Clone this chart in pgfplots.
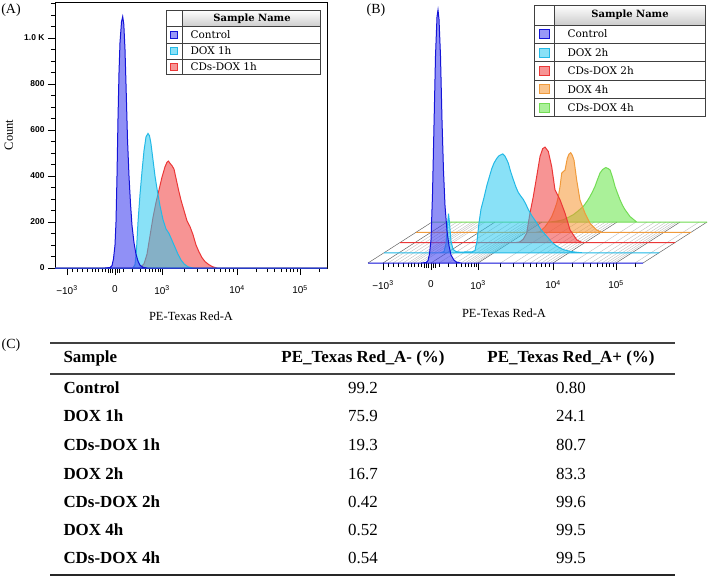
\documentclass[border=0pt]{standalone}
\usepackage{fontspec}
\setmainfont{Liberation Serif}
\newfontfamily\legfont{DejaVu Serif}
\newfontfamily\tickfont{Liberation Sans}
\usepackage{pgfplots}
\pgfplotsset{compat=1.18}
\usepackage{pgfplotstable}

\definecolor{ctrlF}{RGB}{70,70,240}
\definecolor{ctrlL}{RGB}{20,20,215}
\definecolor{cyF}{RGB}{40,200,240}
\definecolor{cyL}{RGB}{35,185,230}
\definecolor{rdF}{RGB}{240,60,60}
\definecolor{rdL}{RGB}{235,55,55}
\definecolor{orF}{RGB}{245,150,50}
\definecolor{orL}{RGB}{240,155,60}
\definecolor{grF}{RGB}{100,230,70}
\definecolor{grL}{RGB}{115,220,85}

% ---------- Panel A data (x in display units of the logicle axis, y = count)
\pgfplotstableread{
x y
55 0
105 0
110 2
112 10
113.5 40
115 100
116 200
117 400
118 650
119 850
120 980
121.5 1070
122.7 1093
123.8 1060
125 950
126 800
127.5 560
129 400
130.5 280
132 185
134 110
136 60
138 30
140 12
143 3
147 0
327 0
}\ctrlA
\pgfplotstableread{
x y
55 0
133 0
135 15
136.5 80
138 200
140 320
142 420
144 510
146 570
148 585
149.5 575
151 540
153 470
155 400
157 345
160 270
163 210
166 170
169 150
172 120
175 90
178 60
181 35
184 18
188 5
193 0
327 0
}\doxA
\pgfplotstableread{
x y
55 0
138 0
141 5
144 18
147 60
150 140
153 220
156 285
159 340
162 395
165 440
167 460
168.5 465
170 455
172 445
174 430
176 390
178.5 340
181 295
184 250
187 205
190 180
193 145
196 100
199 70
202 45
205 28
209 14
213 5
217 0
327 0
}\cdsA

% ---------- Panel B data (same units, each layer relative to its own baseline)
\pgfplotstableread{
x y
52 0
105 0
110 2
112 10
113.5 40
115 100
116.5 300
118 600
119.5 900
121 1070
122 1100
123 1060
124.5 900
126 620
127.5 400
129 250
131 140
133 75
135 35
138 12
141 3
145 0
327 0
}\ctrlB
\pgfplotstableread{
x y
52 0
108 0
112 5
114 40
115.5 120
116.5 170
117.5 130
119 50
121 15
124 5
128 3
140 4
143 10
145 50
147 130
149 190
152 240
154.7 290
157 325
159.7 365
162 390
164.7 410
167 422
170.7 430
173 420
176.3 390
178.5 355
181.3 318
184 285
186.3 262
189 245
191.3 232
194 210
196.3 188
200 160
204.7 130
209 100
214.7 72
220 45
224.7 29
231 14
238 6
245 2
250 0
327 0
}\doxBb
\pgfplotstableread{
x y
52 0
168 0
172 3
175.3 15
178.7 41
182 128
185.3 200
188.7 287
192 374
194.7 408
197 415
200.3 396
203.7 330
207 229
212 186
217 128
222 55
228.7 12
234 0
327 0
}\cdsBb
\pgfplotstableread{
x y
52 0
172 0
176 3
181 24
184.5 45
187.7 68
190.2 95
192.7 126
194.5 160
196 198
197.7 257
199.5 265
201 270
203.3 322
205 340
206.7 346
208.3 335
210 314
212.7 227
216 140
221 83
226 39
232.7 10
238 0
327 0
}\doxBd
\pgfplotstableread{
x y
52 0
168 0
173.3 2
178 5
183.3 10
188 20
193.3 32
198 48
203.3 68
207 90
210 111
212.5 132
215 155
217.5 185
220 213
222.5 228
225.7 237
228 233
230 227
232.5 195
235 155
237.5 125
240 97
242.5 73
245 54
250 24
256.7 0
327 0
}\cdsBd

\pgfplotsset{
  flowaxis/.style={
    scale only axis, clip=false,
    tick align=outside, tick pos=left,
    xtick={67,115,162,237,300},
    xticklabels={{−10\textsuperscript{3}},0,{10\textsuperscript{3}},{10\textsuperscript{4}},{10\textsuperscript{5}}},
    minor xtick={72,77,82,87,92,95,98,102,105,123,132,140,145,149,152,155,158,160,
                 184.6,197.8,207.2,214.4,220.4,225.4,229.7,233.6,
                 256,267,274.9,281,286,290.2,293.9,297.1,319},
    extra x ticks={108,110,112,117,119},
    extra x tick labels={},
    extra x tick style={major tick length=5bp},
    major tick length=7bp, minor tick length=4bp,
    tick style={black, line width=0.9bp},
    xticklabel style={font=\tickfont\fontsize{10}{12}\selectfont, yshift=-7bp},
    yticklabel style={font=\tickfont\bfseries\fontsize{8.5}{10}\selectfont},
    label style={font=\fontsize{12.5}{14}\selectfont},
  }
}

\begin{document}
\begin{tikzpicture}
\useasboundingbox (0,0) rectangle (709bp,-576bp);

% ================= Panel A =================
\begin{axis}[flowaxis,
  at={(55bp,-268bp)}, anchor=south west,
  width=272bp, height=266bp,
  xmin=55, xmax=327, ymin=0, ymax=1156.5,
  axis line style={black, line width=0.8bp},
  ytick={0,200,400,600,800,1000},
  yticklabels={0,200,400,600,800,1.0 K},
  minor ytick={50,100,...,1150},
  xlabel={PE-Texas Red-A}, ylabel={Count},
  xlabel style={at={(axis description cs:0.5,-0.18)}, anchor=center},
  ylabel style={at={(axis description cs:-0.17,0.5)}, anchor=center},
]
\addplot[draw=rdL, fill=rdF, fill opacity=0.55, line width=1bp] table {\cdsA} -- cycle;
\addplot[draw=cyL, fill=cyF, fill opacity=0.55, line width=1bp] table {\doxA} -- cycle;
\addplot[draw=ctrlL, fill=ctrlF, fill opacity=0.6, line width=1bp] table {\ctrlA} -- cycle;
\end{axis}

% ================= Panel B =================
\begin{axis}[flowaxis,
  at={(368bp,-263bp)}, anchor=south west,
  width=340bp, height=263bp,
  xmin=52, xmax=392, ymin=0, ymax=1143.5,
  axis x line*=bottom, axis y line=none,
  x axis line style={draw=none},
  xlabel={PE-Texas Red-A},
  xlabel style={at={(axis description cs:0.4,-0.19)}, anchor=center},
]
% perspective floor
\pgfplotsinvokeforeach{72,77,82,87,92,95,98,102,105,123,132,140,145,149,152,155,158,160,184.6,197.8,207.2,214.4,220.4,225.4,229.7,233.6,256,267,274.9,281,286,290.2,293.9,297.1,319}{
  \draw[black!25, line width=0.4bp] (axis cs:#1,0) -- (axis cs:#1+64,178);
}
\pgfplotsinvokeforeach{52,67,115,162,237,300,327}{
  \draw[black!60, line width=0.5bp] (axis cs:#1,0) -- (axis cs:#1+64,178);
}
\addplot[draw=grL, fill=grF, fill opacity=0.55, line width=1bp]
  table[x expr=\thisrow{x}+64, y expr=\thisrow{y}+178] {\cdsBd} -- cycle;
\addplot[draw=orL, fill=orF, fill opacity=0.55, line width=1bp]
  table[x expr=\thisrow{x}+48, y expr=\thisrow{y}+133.5] {\doxBd} -- cycle;
\addplot[draw=rdL, fill=rdF, fill opacity=0.55, line width=1bp]
  table[x expr=\thisrow{x}+32, y expr=\thisrow{y}+89] {\cdsBb} -- cycle;
\addplot[draw=cyL, fill=cyF, fill opacity=0.55, line width=1bp]
  table[x expr=\thisrow{x}+16, y expr=\thisrow{y}+44.5] {\doxBb} -- cycle;
\addplot[draw=ctrlL, fill=ctrlF, fill opacity=0.6, line width=1bp] table {\ctrlB} -- cycle;
\end{axis}

% ================= Legends =================
\begin{scope}[font=\legfont\fontsize{10.5}{12}\selectfont]
% A
\fill[top color=white, bottom color=black!20] (182bp,-10bp) rectangle (320bp,-26.7bp);
\draw[black!75, line width=0.8bp] (166bp,-10bp) rectangle (320bp,-74.5bp);
\foreach \yy in {26.7,43,59} \draw[black!75, line width=0.8bp] (166bp,-\yy bp) -- (320bp,-\yy bp);
\draw[black!75, line width=0.8bp] (182bp,-10bp) -- (182bp,-74.5bp);
\node[font=\legfont\bfseries\fontsize{10}{12}\selectfont] at (252bp,-18.5bp) {Sample Name};
\filldraw[fill=ctrlF!55, draw=ctrlL, line width=0.8bp] (170.5bp,-31.5bp) rectangle (177.5bp,-38.5bp);
\filldraw[fill=cyF!55, draw=cyL, line width=0.8bp] (170.5bp,-47.5bp) rectangle (177.5bp,-54.5bp);
\filldraw[fill=rdF!55, draw=rdL, line width=0.8bp] (170.5bp,-63.5bp) rectangle (177.5bp,-70.5bp);
\node[anchor=west] at (187bp,-35bp) {Control};
\node[anchor=west] at (187bp,-51bp) {DOX 1h};
\node[anchor=west] at (187bp,-67bp) {CDs-DOX 1h};
% B
\fill[top color=white, bottom color=black!20] (554bp,-5bp) rectangle (705bp,-25bp);
\draw[black!75, line width=0.8bp] (534bp,-5bp) rectangle (705bp,-116.7bp);
\foreach \yy in {25,43.3,61.7,80,98.3} \draw[black!75, line width=0.8bp] (534bp,-\yy bp) -- (705bp,-\yy bp);
\draw[black!75, line width=0.8bp] (554bp,-5bp) -- (554bp,-116.7bp);
\node[font=\legfont\bfseries\fontsize{10}{12}\selectfont] at (630bp,-15bp) {Sample Name};
\filldraw[fill=ctrlF!55, draw=ctrlL, line width=0.8bp] (539bp,-29.5bp) rectangle (549bp,-38.5bp);
\filldraw[fill=cyF!55, draw=cyL, line width=0.8bp] (539bp,-47.9bp) rectangle (549bp,-56.9bp);
\filldraw[fill=rdF!55, draw=rdL, line width=0.8bp] (539bp,-66.3bp) rectangle (549bp,-75.3bp);
\filldraw[fill=orF!55, draw=orL, line width=0.8bp] (539bp,-84.6bp) rectangle (549bp,-93.6bp);
\filldraw[fill=grF!55, draw=grL, line width=0.8bp] (539bp,-103bp) rectangle (549bp,-112bp);
\node[anchor=west] at (564bp,-34bp) {Control};
\node[anchor=west] at (564bp,-52.4bp) {DOX 2h};
\node[anchor=west] at (564bp,-70.8bp) {CDs-DOX 2h};
\node[anchor=west] at (564bp,-89.1bp) {DOX 4h};
\node[anchor=west] at (564bp,-107.5bp) {CDs-DOX 4h};
\end{scope}

% ================= Panel labels =================
\begin{scope}[font=\fontsize{14}{16}\selectfont]
\node at (11bp,-10bp) {(A)};
\node at (376bp,-10bp) {(B)};
\node at (11bp,-345bp) {(C)};
\end{scope}

% ================= Table C =================
\begin{scope}[font=\fontsize{17}{20}\selectfont]
\draw[black!75, line width=1.6bp] (50bp,-343bp) -- (675bp,-343bp);
\draw[black!75, line width=1.6bp] (50bp,-374bp) -- (675bp,-374bp);
\draw[black!85, line width=1.6bp] (50bp,-575bp) -- (675bp,-575bp);
\node[anchor=west, font=\bfseries\fontsize{17}{20}\selectfont] at (60bp,-358bp) {Sample};
\node[font=\bfseries\fontsize{17}{20}\selectfont] at (363bp,-358bp) {PE\_Texas Red\_A- (\%)};
\node[font=\bfseries\fontsize{17}{20}\selectfont] at (571bp,-358bp) {PE\_Texas Red\_A+ (\%)};
\foreach \yy/\nm/\a/\b in {388/Control/99.2/0.80, 416/DOX 1h/75.9/24.1, 445/CDs-DOX 1h/19.3/80.7,
   474/DOX 2h/16.7/83.3, 502/CDs-DOX 2h/0.42/99.6, 530/DOX 4h/0.52/99.5, 558/CDs-DOX 4h/0.54/99.5}{
  \node[anchor=west, font=\bfseries\fontsize{17}{20}\selectfont] at (60bp,-\yy bp) {\nm};
  \node at (363bp,-\yy bp) {\a};
  \node at (571bp,-\yy bp) {\b};
}
\end{scope}
\end{tikzpicture}
\end{document}
